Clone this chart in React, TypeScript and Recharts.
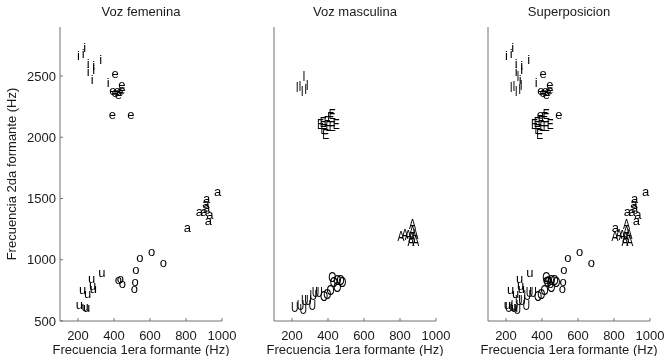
import React from 'react';
import { ScatterChart, Scatter, XAxis, YAxis } from 'recharts';

const FONT = '"Liberation Sans", Arial, Helvetica, sans-serif';
const AXIS = '#707070';
const INK = '#1a1a1a';

const xTicks = [200, 400, 600, 800, 1000];
const yTicks = [500, 1000, 1500, 2000, 2500];

const titles = ['Voz femenina', 'Voz masculina', 'Superposicion'];
const vowelsFem = ['i', 'e', 'a', 'o', 'u'];
const vowelsMasc = ['I', 'E', 'A', 'O', 'U'];

// voz femenina, [F1, F2] en Hz
const fem_i = [[202, 2668], [229, 2687], [237, 2731], [256, 2601], [256, 2540], [287, 2586], [287, 2551], [279, 2470], [326, 2633], [368, 2450]];
const fem_e = [[406, 2511], [393, 2374], [406, 2355], [424, 2342], [443, 2423], [443, 2383], [433, 2361], [418, 2369], [391, 2179], [494, 2179]];
const fem_a = [[976, 1549], [915, 1494], [911, 1451], [915, 1420], [874, 1386], [900, 1386], [933, 1358], [924, 1309], [807, 1255]];
const fem_o = [[544, 1011], [609, 1060], [674, 970], [522, 910], [517, 812], [513, 758], [424, 828], [436, 840], [446, 793]];
const fem_u = [[332, 889], [276, 834], [281, 780], [285, 758], [226, 747], [254, 712], [207, 622], [239, 612], [248, 600]];

// voz masculina
const masc_i = [[229, 2410], [244, 2423], [257, 2383], [267, 2505], [276, 2396], [285, 2432]];
const masc_e = [[359, 2111], [374, 2124], [378, 2070], [387, 2030], [396, 2138], [415, 2171], [424, 2193], [424, 2097], [446, 2111], [406, 2097]];
const masc_a = [[869, 1296], [806, 1201], [828, 1215], [846, 1209], [865, 1187], [883, 1215], [887, 1160], [861, 1160], [869, 1242]];
const masc_o = [[396, 726], [415, 753], [424, 861], [433, 820], [452, 780], [470, 834], [479, 820], [452, 834], [378, 704]];
const masc_u = [[215, 617], [248, 630], [271, 671], [289, 677], [318, 712], [331, 739], [350, 739], [263, 603], [313, 630]];

const femData = [fem_i, fem_e, fem_a, fem_o, fem_u];
const mascData = [masc_i, masc_e, masc_a, masc_o, masc_u];

const toPts = (arr: number[][]) => arr.map(([f1, f2]) => ({ f1, f2 }));

const femSeries = vowelsFem.map((ch, i) => ({ ch, male: false, data: toPts(femData[i]) }));
const mascSeries = vowelsMasc.map((ch, i) => ({ ch, male: true, data: toPts(mascData[i]) }));

// text markers, centred on the point
const letter = (ch: string, male: boolean) => (props: any) => {
  const { cx, cy } = props;
  if (cx == null || cy == null) return <g />;
  const fs = male ? 15 : 13;
  const tall = male || ch === 'i';
  const dy = (tall ? 0.36 : 0.26) * fs;
  return (
    <text
      transform={`translate(${cx},${cy + dy}) scale(${male ? 0.7 : 1},1)`}
      textAnchor="middle"
      fontSize={fs}
      fontFamily={FONT}
      fill="#000"
    >
      {ch}
    </text>
  );
};

const XTick = ({ x, y, payload }: any) => (
  <g>
    <line x1={x} x2={x} y1={y} y2={y - 3} stroke={AXIS} />
    <text x={x} y={y + 19} textAnchor="middle" fontSize={13} fontFamily={FONT} fill={INK}>
      {payload.value}
    </text>
  </g>
);

const YTick = ({ x, y, payload }: any) => (
  <g>
    <line x1={x} x2={x + 3} y1={y} y2={y} stroke={AXIS} />
    <text x={x - 4} y={y + 4.5} textAnchor="end" fontSize={13} fontFamily={FONT} fill={INK}>
      {payload.value}
    </text>
  </g>
);

const YTitle = () => (
  <text transform="translate(16,174) rotate(-90)" textAnchor="middle" fontSize={13} fontFamily={FONT} fill={INK}>
    Frecuencia 2da formante (Hz)
  </text>
);

const Panel = ({ left, title, series, showY }: any) => (
  <div style={{ position: 'absolute', left, top: 0, width: 238, height: 356 }}>
    <div
      style={{
        position: 'absolute', left: 60, top: 4, width: 162, textAlign: 'center',
        fontSize: 13, lineHeight: '16px', color: INK, fontFamily: FONT, whiteSpace: 'nowrap',
      }}
    >
      {title}
    </div>
    <ScatterChart width={238} height={356} margin={{ top: 27, right: 16, bottom: 0, left: 59 }}>
      <XAxis
        type="number"
        dataKey="f1"
        domain={[100, 1000]}
        ticks={xTicks}
        interval={0}
        height={35}
        tickSize={0}
        tickMargin={0}
        tickLine={false}
        axisLine={{ stroke: AXIS }}
        tick={<XTick />}
        label={{ value: 'Frecuencia 1era formante (Hz)', position: 'insideBottom', offset: 2, fontSize: 13, fill: INK, fontFamily: FONT }}
      />
      <YAxis
        type="number"
        dataKey="f2"
        domain={[500, 2900]}
        ticks={yTicks}
        interval={0}
        width={1}
        tickSize={0}
        tickMargin={0}
        tickLine={false}
        axisLine={{ stroke: AXIS }}
        tick={showY ? <YTick /> : false}
        label={showY ? { content: () => <YTitle /> } : undefined}
      />
      {series.map((s: any, i: number) => (
        <Scatter key={i} data={s.data} shape={letter(s.ch, s.male)} isAnimationActive={false} />
      ))}
    </ScatterChart>
  </div>
);

export default function App() {
  return (
    <div
      style={{
        position: 'absolute', left: 0, top: 0, width: 666, height: 356, overflow: 'hidden',
        background: '#fff', willChange: 'transform',
      }}
    >
      <Panel left={0} title={titles[0]} series={femSeries} showY />
      <Panel left={214} title={titles[1]} series={mascSeries} />
      <Panel left={428} title={titles[2]} series={[...femSeries, ...mascSeries]} />
    </div>
  );
}
